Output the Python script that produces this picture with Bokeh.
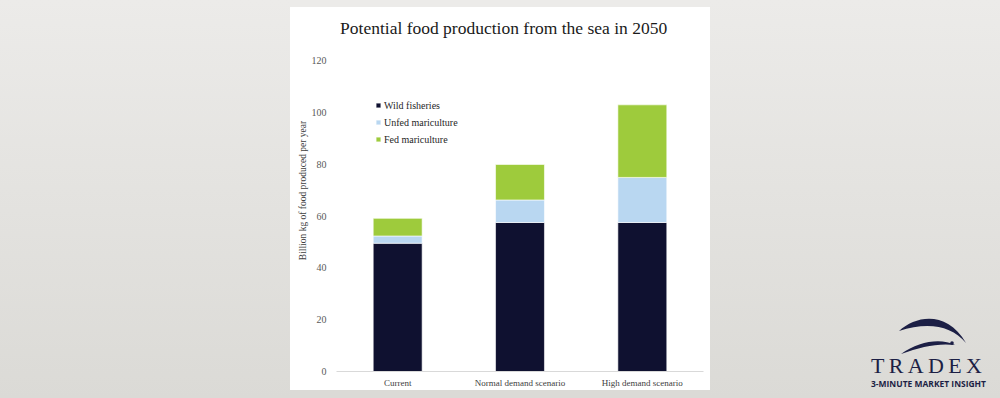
from bokeh.plotting import figure
from bokeh.models import (ColumnDataSource, Range1d, FactorRange, Div, Label)
from bokeh.layouts import row, column
from bokeh.embed import file_html
from bokeh.resources import INLINE

# ---- data ----
categories = ["Current", "Normal demand scenario", "High demand scenario"]
wild_fisheries = [49.5, 57.5, 57.5]
unfed_mariculture = [2.8, 8.7, 17.4]
fed_mariculture = [6.8, 13.7, 28.0]
series_names = ["Wild fisheries", "Unfed mariculture", "Fed mariculture"]
series_colors = ["#0f1130", "#b9d7f1", "#9ecb3c"]
y_ticks = [0, 20, 40, 60, 80, 100, 120]
title_text = "Potential food production from the sea in 2050"

src = ColumnDataSource(dict(cat=categories, wild=wild_fisheries,
                            unfed=unfed_mariculture, fed=fed_mariculture))

SERIF = "Liberation Serif"
BG_TOP = "#ecebe9"
BG_BOT = "#dbdad6"
NAVY = "#1c1f45"

# frame extends above the top tick so the title can sit inside it
p = figure(width=420, height=383, x_range=FactorRange(*categories), y_range=Range1d(0, 139.7),
           output_backend="svg", toolbar_location=None, title=None,
           min_border_left=46, min_border_right=7, min_border_top=2, min_border_bottom=19,
           border_fill_color="white", background_fill_color="white", outline_line_color=None)

p.vbar_stack(["wild", "unfed", "fed"], x="cat", width=0.4, source=src,
             color=series_colors, line_color="white", line_width=0.6,
             legend_label=series_names)

p.add_layout(Label(x=1.366, y=132.6, text=title_text, text_font=SERIF, text_font_size="17.5px",
                   text_color="#1a1a1a", text_align="center", text_baseline="alphabetic"))

# axes
p.xgrid.visible = False
p.ygrid.visible = False
p.yaxis.ticker = y_ticks
p.yaxis.axis_line_color = None
p.yaxis.major_tick_line_color = None
p.yaxis.minor_tick_line_color = None
p.yaxis.major_label_standoff = 4
p.yaxis.major_label_text_font = SERIF
p.yaxis.major_label_text_font_size = "10px"
p.yaxis.major_label_text_color = "#595959"
p.yaxis.axis_label = "Billion kg of food produced per year"
p.yaxis.axis_label_text_font = SERIF
p.yaxis.axis_label_text_font_size = "9.5px"
p.yaxis.axis_label_text_font_style = "normal"
p.yaxis.axis_label_text_color = "#404040"
p.yaxis.axis_label_standoff = 1

p.xaxis.axis_line_color = "#d9d9d9"
p.xaxis.axis_line_width = 1
p.xaxis.major_tick_line_color = None
p.xaxis.minor_tick_line_color = None
p.xaxis.major_label_standoff = 0
p.xaxis.major_label_text_font = SERIF
p.xaxis.major_label_text_font_size = "9px"
p.xaxis.major_label_text_color = "#404040"

# legend
lg = p.legend[0]
lg.location = (39, 225)
lg.glyph_width = 6
lg.glyph_height = 6
lg.label_standoff = 3
lg.label_height = 14
lg.spacing = 3
lg.padding = 0
lg.margin = 0
lg.border_line_color = None
lg.background_fill_alpha = 0
lg.label_text_font = SERIF
lg.label_text_font_size = "10px"
lg.label_text_color = "#262626"

grad = "linear-gradient(to bottom, %s, %s)" % (BG_TOP, BG_BOT)
base_style = {"margin": "0", "padding": "0", "overflow": "hidden"}

left_div = Div(text="", width=290, height=398, styles=dict(base_style, background=grad))
top_strip = Div(text="", width=420, height=7, styles=dict(base_style, background=BG_TOP))
bot_strip = Div(text="", width=420, height=8, styles=dict(base_style, background=BG_BOT))

logo_svg = (
    '<div style="position:relative;width:290px;height:398px;">'
    '<svg width="140" height="98" style="position:absolute;left:150px;top:300px;" '
    'xmlns="http://www.w3.org/2000/svg">'
    '<g transform="translate(25,12)" style="fill:%s">'
    '<path d="M14,19 C32,3 62,-1 81,31 C66,13 42,10 14,19 Z"/>'
    '<path d="M16,42 C34,29 56,26 70,33 C52,31 36,35 16,42 Z"/>'
    '<circle cx="67" cy="31" r="1.8"/>'
    '</g>'
    '<text x="11" y="73" style="font-family:\'Liberation Serif\',serif;font-size:22px;fill:%s" '
    'textLength="111" lengthAdjust="spacing">TRADEX</text>'
    '<text x="11" y="87" style="font-family:\'Open Sans\',sans-serif;font-weight:bold;'
    'font-size:8px;fill:%s" '
    'textLength="115" lengthAdjust="spacingAndGlyphs">3-MINUTE MARKET INSIGHT</text>'
    '</svg></div>'
) % (NAVY, NAVY, NAVY)
right_div = Div(text=logo_svg, width=290, height=398, styles=dict(base_style, background=grad))

layout = row(left_div, column(top_strip, p, bot_strip, spacing=0), right_div, spacing=0)

open("out.html", "w").write(file_html(layout, INLINE))
